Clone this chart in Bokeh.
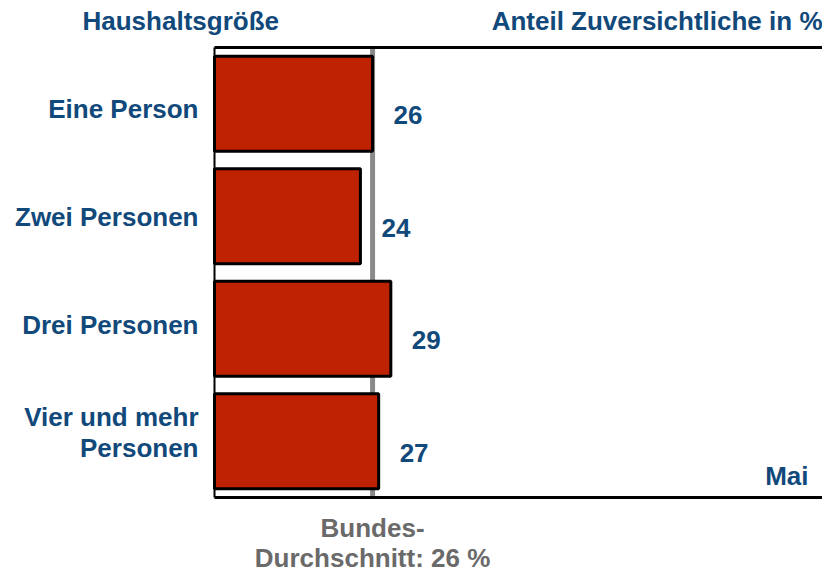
from bokeh.plotting import figure
from bokeh.models import Range1d, ColumnDataSource
from bokeh.core.properties import value
from bokeh.embed import file_html
from bokeh.resources import INLINE

# ---- data ----
categories = ["Eine Person", "Zwei Personen", "Drei Personen", "Vier und mehr\nPersonen"]
shares = [26, 24, 29, 27]
share_labels = ["26", "24", "29", "27"]
average = 26
header_left = "Haushaltsgröße"
header_right = "Anteil Zuversichtliche in %"
month = "Mai"
avg_text = ["Bundes-", "Durchschnitt: 26 %"]

# ---- style / layout ----
BLUE = "#12497B"
RED = "#BF2200"
GREY_LINE = "#8A8A8A"
GREY_TEXT = "#6A6A6A"
FONT = value("Liberation Sans")
FS = "26px"
W, H = 822, 571
X_MAX = 100                      # value axis runs 0..100 across the frame
PX_PER_UNIT = 6.08               # horizontal scale
LEFT_PX, TOP_PX, BOTTOM_PX = 214, 47, 497
LABEL_FIRST_PX, LABEL_STEP_PX = 61.5, 107.8   # category label column layout
n = len(categories)
slot_px = (BOTTOM_PX - TOP_PX) / n

x_start = -LEFT_PX / PX_PER_UNIT
y_end = n + TOP_PX / slot_px
y_start = -(H - BOTTOM_PX) / slot_px

# bar centres: first category on top
centres = [n - 0.5 - i for i in range(n)]
label_y = [n - (LABEL_FIRST_PX + i * LABEL_STEP_PX) / slot_px for i in range(n)]

src = ColumnDataSource(dict(cat=categories, val=shares, lab=share_labels,
                            y=centres, ylab=[c - 0.1 for c in centres], ycat=label_y))

p = figure(width=W, height=H, output_backend="svg", toolbar_location=None,
           x_range=Range1d(x_start, X_MAX), y_range=Range1d(y_start, y_end),
           x_axis_location=None, y_axis_location=None,
           min_border=0, min_border_left=0, min_border_right=0,
           min_border_top=0, min_border_bottom=0)
p.outline_line_color = None
p.background_fill_color = "white"
p.border_fill_color = "white"
p.xgrid.visible = False
p.ygrid.visible = False

# average line (under the bars)
p.segment(x0=[average], y0=[0], x1=[average], y1=[n], line_color=GREY_LINE, line_width=5)

# frame lines: top, bottom, left
p.segment(x0=[0, 0], y0=[n, 0], x1=[X_MAX, X_MAX], y1=[n, 0], line_color="black", line_width=3)
p.segment(x0=[0], y0=[0], x1=[0], y1=[n], line_color="black", line_width=2)

p.hbar(y="y", left=0, right="val", height=0.845, source=src,
       fill_color=RED, line_color="black", line_width=3)

txt = dict(text_font=FONT, text_font_style="bold", text_font_size=FS)

# value labels
p.text(x="val", y="ylab", text="lab", source=src, x_offset=21,
       text_align="left", text_baseline="middle", text_color=BLUE, **txt)

# category labels
p.text(x=0, y="ycat", text="cat", source=src, x_offset=-16,
       text_align="right", text_baseline="middle", text_color=BLUE,
       text_line_height=1.04, **txt)

# headers
p.text(x=[x_start + 82 / PX_PER_UNIT], y=[n + 27 / slot_px], text=[header_left],
       text_align="left", text_baseline="middle", text_color=BLUE, **txt)
p.text(x=[X_MAX], y=[n + 27 / slot_px], text=[header_right],
       text_align="right", text_baseline="middle", text_color=BLUE, **txt)

# month
p.text(x=[X_MAX - 14 / PX_PER_UNIT], y=[22 / slot_px], text=[month],
       text_align="right", text_baseline="middle", text_color=BLUE, **txt)

# average caption
p.text(x=[average, average], y=[-30 / slot_px, -60 / slot_px], text=avg_text,
       text_align="center", text_baseline="middle", text_color=GREY_TEXT, **txt)

open("out.html", "w").write(file_html(p, INLINE))
